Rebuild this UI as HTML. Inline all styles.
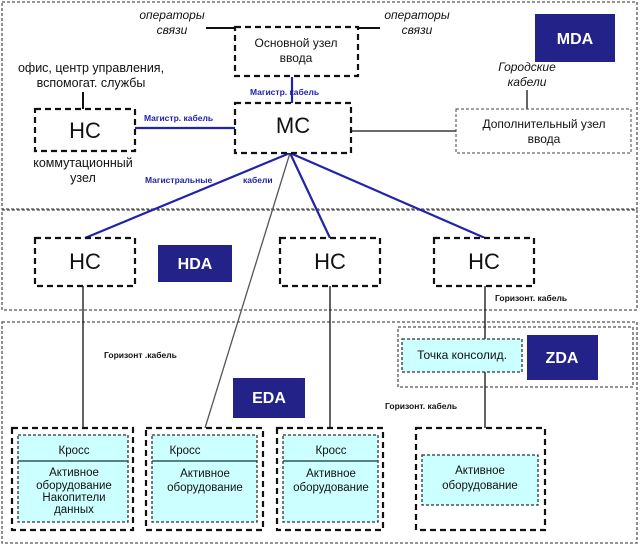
<!DOCTYPE html>
<html><head><meta charset="utf-8"><style>
html,body{margin:0;padding:0;background:#fff;}
svg{display:block;font-family:"Liberation Sans","DejaVu Sans",sans-serif;}
</style></head><body>
<svg width="640" height="545" viewBox="0 0 640 545" xmlns="http://www.w3.org/2000/svg">
<g fill="none" stroke="#555" stroke-width="1.3" stroke-dasharray="3,2">
<rect x="2" y="2" width="635" height="207"/>
<rect x="2" y="210" width="635" height="100"/>
<rect x="2" y="322" width="635" height="221"/>
<rect x="398" y="327" width="235" height="60"/>
</g>
<g fill="#222288">
<rect x="535" y="14" width="80" height="48"/>
<rect x="158" y="245" width="74" height="37"/>
<rect x="233" y="378" width="72" height="40"/>
<rect x="527" y="335" width="71" height="45"/>
</g>
<g fill="#fff" font-weight="bold" font-size="16" text-anchor="middle">
<text x="575" y="44">MDA</text>
<text x="195" y="269">HDA</text>
<text x="269" y="403">EDA</text>
<text x="562" y="363">ZDA</text>
</g>
<g stroke="#111" stroke-width="1.3" fill="none">
<line x1="206" y1="28" x2="235" y2="28" stroke-width="2"/>
<line x1="358" y1="28" x2="380" y2="28" stroke-width="2"/>
<line x1="83" y1="92" x2="83" y2="109" stroke-width="2"/>
<line x1="527" y1="90" x2="527" y2="109"/>
<line x1="351" y1="131" x2="456" y2="131"/>
<line x1="83" y1="286" x2="83" y2="428"/>
<line x1="330" y1="286" x2="330" y2="428"/>
<line x1="485" y1="286" x2="485" y2="339"/>
<line x1="485" y1="372" x2="485" y2="428"/>
<line x1="290" y1="153" x2="205" y2="428" stroke="#555"/>
</g>
<g stroke="#2222aa" stroke-width="2.2" fill="none">
<line x1="135" y1="128" x2="235" y2="128"/>
<line x1="292" y1="77" x2="292" y2="103"/>
<line x1="290" y1="153" x2="85" y2="238"/>
<line x1="290" y1="153" x2="330" y2="238"/>
<line x1="290" y1="153" x2="485" y2="238"/>
</g>
<g fill="#fff" stroke="#111" stroke-width="2.2" stroke-dasharray="6,4">
<rect x="235" y="27" width="123" height="49"/>
<rect x="235" y="103" width="116" height="50"/>
<rect x="35" y="109" width="100" height="42"/>
<rect x="35" y="238" width="100" height="48"/>
<rect x="280" y="238" width="100" height="48"/>
<rect x="434" y="238" width="100" height="48"/>
<rect x="12" y="428" width="121" height="102"/>
<rect x="146" y="428" width="117" height="102"/>
<rect x="277" y="428" width="106" height="102"/>
<rect x="416" y="428" width="129" height="102"/>
</g>
<rect x="456" y="109" width="175" height="44" fill="#fff" stroke="#444" stroke-width="1" stroke-dasharray="3,2"/>
<g fill="#ccffff" stroke="#333" stroke-width="1.3" stroke-dasharray="3,2">
<rect x="18" y="435" width="110" height="87"/>
<rect x="152" y="435" width="105" height="87"/>
<rect x="283" y="435" width="95" height="87"/>
<rect x="422" y="455" width="116" height="50"/>
<rect x="402" y="339" width="120" height="33"/>
</g>
<g stroke="#335555" stroke-width="1.5">
<line x1="18" y1="461" x2="128" y2="461"/>
<line x1="152" y1="461" x2="257" y2="461"/>
<line x1="283" y1="461" x2="378" y2="461"/>
</g>
<g fill="#111" font-size="12" text-anchor="middle">
<text x="296" y="47">Основной узел</text><text x="296" y="62">ввода</text>
<text x="91" y="72" font-size="12.5">офис, центр управления,</text><text x="91" y="87" font-size="12.5">вспомогат. службы</text>
<text x="83" y="167" font-size="12.5">коммутационный</text><text x="83" y="182" font-size="12.5">узел</text>
<text x="544" y="128">Дополнительный узел</text><text x="544" y="143">ввода</text>
<text x="462" y="359">Точка консолид.</text>
</g>
<g fill="#111" font-size="11.5" text-anchor="middle">
<text x="74" y="454">Кросс</text>
<text x="74" y="476">Активное</text><text x="74" y="489">оборудование</text><text x="74" y="501">Накопители</text><text x="74" y="513">данных</text>
<text x="185" y="454">Кросс</text>
<text x="205" y="477">Активное</text><text x="205" y="491">оборудование</text>
<text x="331" y="454">Кросс</text>
<text x="331" y="477">Активное</text><text x="331" y="491">оборудование</text>
<text x="480" y="474">Активное</text><text x="480" y="489">оборудование</text>
</g>
<g fill="#111" font-size="12" font-style="italic" text-anchor="middle">
<text x="172" y="19">операторы</text><text x="172" y="34">связи</text>
<text x="417" y="19">операторы</text><text x="417" y="34">связи</text>
<text x="527" y="71">Городские</text><text x="527" y="86">кабели</text>
</g>
<g fill="#111" font-size="22" text-anchor="middle">
<text x="85" y="138">НС</text>
<text x="293" y="133">МС</text>
<text x="85" y="269">НС</text>
<text x="330" y="269">НС</text>
<text x="484" y="269">НС</text>
</g>
<g fill="#2222aa" font-size="8.5" font-weight="bold">
<text x="250" y="95">Магистр. кабель</text>
<text x="144" y="121">Магистр. кабель</text>
<text x="145" y="183">Магистральные</text>
<text x="243" y="183">кабели</text>
</g>
<g fill="#111" font-size="8.5" font-weight="bold">
<text x="104" y="358">Горизонт .кабель</text>
<text x="385" y="409">Горизонт. кабель</text>
<text x="495" y="301">Горизонт. кабель</text>
</g>
</svg>
</body></html>
